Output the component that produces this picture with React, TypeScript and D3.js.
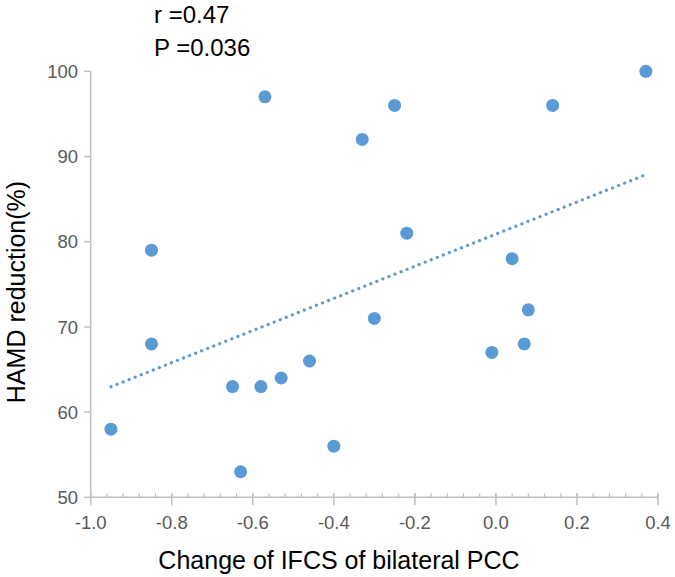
import React from "react";
import * as d3 from "d3";

const xValues = [-0.95, -0.85, -0.85, -0.65, -0.63, -0.58, -0.57, -0.53, -0.46, -0.40, -0.33, -0.30, -0.25, -0.22, -0.01, 0.04, 0.07, 0.08, 0.14, 0.37];
const yValues = [58, 79, 68, 63, 53, 63, 97, 64, 66, 56, 92, 71, 96, 81, 67, 78, 68, 72, 96, 100];
const xTicks = [-1.0, -0.8, -0.6, -0.4, -0.2, 0.0, 0.2, 0.4];
const yTicks = [50, 60, 70, 80, 90, 100];
const statLines = ["r =0.47", "P =0.036"];
const xTitle = "Change of IFCS of bilateral PCC";
const yTitle = "HAMD reduction(%)";

const W = 675;
const H = 577;
const FONT = "Arial, 'Liberation Sans', sans-serif";
const AXIS = "#bfbfbf";
const LABEL = "#595959";
const BLUE = "#5b9bd5";

export default function App() {
  const x = d3.scaleLinear().domain([-1, 0.4]).range([90.7, 658]);
  const y = d3.scaleLinear().domain([50, 100]).range([497.3, 71.3]);

  const n = xValues.length;
  const mx = d3.mean(xValues) as number;
  const my = d3.mean(yValues) as number;
  let sxy = 0, sxx = 0;
  for (let i = 0; i < n; i++) {
    sxy += (xValues[i] - mx) * (yValues[i] - my);
    sxx += (xValues[i] - mx) ** 2;
  }
  const slope = sxy / sxx;
  const intercept = my - slope * mx;
  const [x0, x1] = d3.extent(xValues) as [number, number];
  const trend = d3.line<number>().x((v) => x(v)).y((v) => y(intercept + slope * v))([x0, x1]) as string;

  const minorTicks = d3.range(-1, 0.4001, 0.04).map((v) => +v.toFixed(2));

  return (
    <svg width={W} height={H} style={{ position: "absolute", left: 0, top: 0, background: "#fff" }} fontFamily={FONT}>
      {/* stats text */}
      {statLines.map((t, i) => (
        <text key={t} x={154} y={23 + i * 33} fontSize={24} fill="#000">{t}</text>
      ))}
      {/* y axis */}
      <line x1={x(-1)} x2={x(-1)} y1={y(100)} y2={y(50)} stroke={AXIS} strokeWidth={1.5} />
      {yTicks.map((t) => (
        <g key={"y" + t}>
          <line x1={x(-1) - 6.5} x2={x(-1)} y1={y(t)} y2={y(t)} stroke={AXIS} strokeWidth={1.5} />
          <text x={78} y={y(t)} dy="0.36em" textAnchor="end" fontSize={18.5} fill={LABEL}>{t}</text>
        </g>
      ))}
      {/* x axis */}
      <line x1={x(-1)} x2={x(0.4)} y1={y(50)} y2={y(50)} stroke={AXIS} strokeWidth={1.5} />
      {minorTicks.map((t) => (
        <line key={"m" + t} x1={x(t)} x2={x(t)} y1={y(50) - 4} y2={y(50)} stroke={AXIS} strokeWidth={1.2} />
      ))}
      {xTicks.map((t) => (
        <g key={"x" + t}>
          <line x1={x(t)} x2={x(t)} y1={y(50) - 4} y2={y(50) + 8} stroke={AXIS} strokeWidth={1.5} />
          <text x={x(t)} y={529} textAnchor="middle" fontSize={18.5} fill={LABEL}>{t.toFixed(1)}</text>
        </g>
      ))}
      {/* trend line */}
      <path d={trend} fill="none" stroke={BLUE} strokeWidth={3.2} strokeDasharray="0.1 6.4" strokeLinecap="round" />
      {/* points */}
      {xValues.map((v, i) => (
        <circle key={i} cx={x(v)} cy={y(yValues[i])} r={6.5} fill={BLUE} />
      ))}
      {/* axis titles */}
      <text x={339} y={569} textAnchor="middle" fontSize={25} fill="#000">{xTitle}</text>
      <text transform={`translate(25,292) rotate(-90)`} textAnchor="middle" fontSize={25} fill="#000">{yTitle}</text>
    </svg>
  );
}
